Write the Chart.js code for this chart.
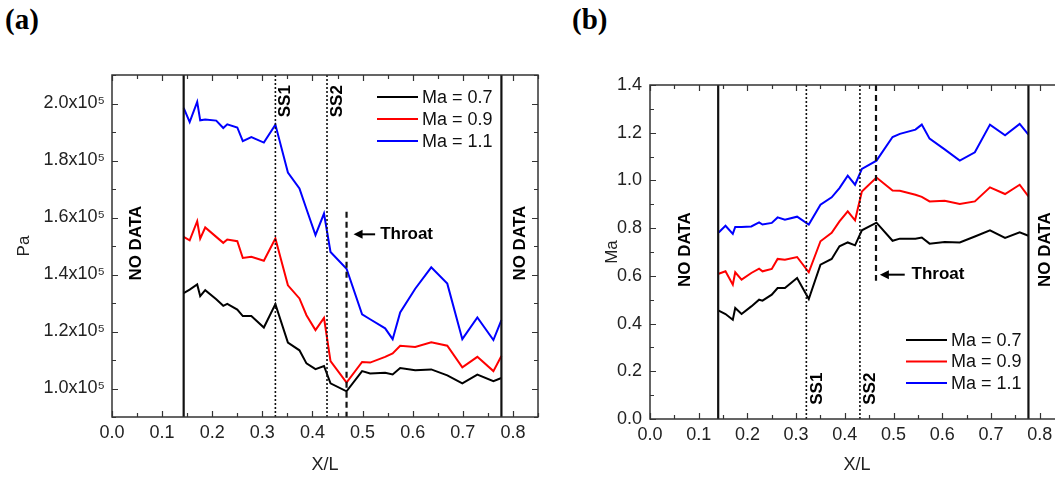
<!DOCTYPE html>
<html>
<head>
<meta charset="utf-8">
<script src="https://cdn.jsdelivr.net/npm/chart.js@4"></script>
<style>
  html, body { margin: 0; padding: 0; background: #fff; }
  body { width: 1055px; height: 479px; overflow: hidden; position: relative; }
  .panel { position: absolute; top: 0; }
  .tag { position: absolute; top: 3px; font: bold 29px 'Liberation Serif', 'Times New Roman', serif; color: #000; }
</style>
</head>
<body>
<div class="tag" style="left:5px">(a)</div>
<div class="tag" style="left:572px">(b)</div>
<div class="panel" style="left:0px"><canvas id="chartA" width="560" height="479"></canvas></div>
<div class="panel" style="left:560px"><canvas id="chartB" width="520" height="479"></canvas></div>
<script>
// ---- data ----
const seriesLabels = ['Ma = 0.7', 'Ma = 0.9', 'Ma = 1.1'];
const seriesColors = ['#000000', '#ff0000', '#0000ff'];

const xTicks = [0.0, 0.1, 0.2, 0.3, 0.4, 0.5, 0.6, 0.7, 0.8];
const paTicks = [100000, 120000, 140000, 160000, 180000, 200000];
const maTicks = [0.0, 0.2, 0.4, 0.6, 0.8, 1.0, 1.2, 1.4];

// (a) static pressure
const xA = [0.143, 0.155, 0.170, 0.176, 0.186, 0.208, 0.222, 0.230, 0.250, 0.261, 0.278,
            0.303, 0.326, 0.351, 0.374, 0.388, 0.406, 0.423, 0.436, 0.468, 0.499, 0.515,
            0.545, 0.560, 0.575, 0.605, 0.637, 0.669, 0.699, 0.729, 0.761, 0.777];
const pa07 = [133500, 134700, 136500, 132400, 134500, 131300, 129000, 129700, 127700, 125400, 125400,
              121400, 129600, 116100, 113400, 108800, 106800, 107900, 101800, 99000, 106100, 105300,
              105500, 104900, 107200, 106400, 106700, 104600, 101800, 104900, 102600, 103700];
const pa09 = [153200, 152000, 158700, 152600, 156500, 153200, 151100, 152300, 151700, 145800, 146200,
              144800, 152600, 136200, 131600, 125700, 120500, 124800, 109600, 102100, 109300, 109100,
              111100, 112300, 115000, 114600, 116200, 115000, 107400, 111100, 106100, 111400];
const pa11 = [198500, 193500, 200600, 194100, 194400, 194000, 191400, 192700, 191600, 186800, 188200,
              186300, 192600, 175800, 170200, 163000, 153800, 161400, 147900, 142000, 126000, 124300,
              121100, 117300, 126700, 135000, 142500, 136800, 117300, 124900, 117000, 124000];

// (b) Mach number
const xB = [0.141, 0.155, 0.170, 0.175, 0.188, 0.208, 0.224, 0.231, 0.250, 0.262, 0.277,
            0.302, 0.326, 0.350, 0.373, 0.389, 0.406, 0.421, 0.435, 0.465, 0.498, 0.513,
            0.545, 0.558, 0.574, 0.605, 0.636, 0.667, 0.698, 0.729, 0.759, 0.777];
const ma07 = [0.454, 0.440, 0.416, 0.465, 0.440, 0.472, 0.500, 0.496, 0.521, 0.549, 0.549,
              0.591, 0.503, 0.647, 0.671, 0.724, 0.740, 0.728, 0.791, 0.823, 0.747, 0.756,
              0.756, 0.761, 0.735, 0.742, 0.740, 0.765, 0.791, 0.759, 0.782, 0.768];
const ma09 = [0.609, 0.619, 0.563, 0.615, 0.584, 0.612, 0.630, 0.619, 0.629, 0.671, 0.668,
              0.679, 0.615, 0.745, 0.780, 0.828, 0.870, 0.833, 0.954, 1.012, 0.958, 0.957,
              0.940, 0.931, 0.912, 0.915, 0.901, 0.912, 0.971, 0.943, 0.982, 0.933];
const ma11 = [0.782, 0.810, 0.776, 0.805, 0.805, 0.807, 0.824, 0.815, 0.822, 0.845, 0.835,
              0.848, 0.815, 0.898, 0.929, 0.968, 1.020, 0.982, 1.048, 1.083, 1.182, 1.195,
              1.213, 1.234, 1.175, 1.130, 1.083, 1.118, 1.234, 1.189, 1.237, 1.192];

const FONT = "'Liberation Sans', Arial, sans-serif";
Chart.defaults.font.family = FONT;
Chart.defaults.color = '#222';

function pts(xs, ys) {
  return xs.map((x, i) => ({ x: x, y: ys[i] }));
}

function makeSets(xs, list) {
  return list.map((ys, i) => ({
    label: seriesLabels[i],
    data: pts(xs, ys),
    borderColor: seriesColors[i],
    backgroundColor: seriesColors[i],
    borderWidth: 2,
    pointRadius: 0,
    tension: 0
  }));
}

// frame with inward ticks, marker lines, labels and an inside legend
const decor = {
  id: 'decor',
  afterDatasetsDraw(chart, args, o) {
    const { ctx, chartArea: a, scales: { x, y } } = chart;
    ctx.save();
    ctx.beginPath();
    ctx.rect(a.left, a.top, a.right - a.left, a.bottom - a.top);
    ctx.clip();

    // solid "no data" limits
    ctx.strokeStyle = '#111';
    ctx.lineWidth = 2.2;
    o.limits.forEach(v => {
      const px = x.getPixelForValue(v);
      ctx.beginPath(); ctx.moveTo(px, a.top); ctx.lineTo(px, a.bottom); ctx.stroke();
    });
    // dotted shock lines
    ctx.lineWidth = 1.6;
    ctx.setLineDash([2, 2]);
    o.shocks.forEach(v => {
      const px = x.getPixelForValue(v);
      ctx.beginPath(); ctx.moveTo(px, a.top); ctx.lineTo(px, a.bottom); ctx.stroke();
    });
    // dashed throat line
    ctx.lineWidth = 2.2;
    ctx.setLineDash([6, 4]);
    const tx = x.getPixelForValue(o.throat.x);
    ctx.beginPath();
    ctx.moveTo(tx, y.getPixelForValue(o.throat.y0));
    ctx.lineTo(tx, y.getPixelForValue(o.throat.y1));
    ctx.stroke();
    ctx.setLineDash([]);
    ctx.restore();

    ctx.save();
    // throat arrow + text
    const ay = y.getPixelForValue(o.arrow.y);
    const ax0 = x.getPixelForValue(o.arrow.x0), ax1 = x.getPixelForValue(o.arrow.x1);
    ctx.strokeStyle = '#000'; ctx.fillStyle = '#000'; ctx.lineWidth = 2;
    ctx.beginPath(); ctx.moveTo(ax0 + 7, ay); ctx.lineTo(ax1, ay); ctx.stroke();
    ctx.beginPath(); ctx.moveTo(ax0, ay); ctx.lineTo(ax0 + 9, ay - 4.5); ctx.lineTo(ax0 + 9, ay + 4.5); ctx.closePath(); ctx.fill();
    ctx.font = 'bold 17px ' + FONT;
    ctx.textAlign = 'left'; ctx.textBaseline = 'middle';
    ctx.fillText('Throat', x.getPixelForValue(o.arrow.tx), ay);

    // rotated labels
    o.notes.forEach(n => {
      ctx.save();
      ctx.translate(x.getPixelForValue(n.x), y.getPixelForValue(n.y));
      ctx.rotate(-Math.PI / 2);
      ctx.textAlign = 'center'; ctx.textBaseline = 'middle';
      ctx.fillText(n.text, 0, 0);
      ctx.restore();
    });

    // frame
    ctx.strokeStyle = '#333'; ctx.lineWidth = 1.5;
    ctx.strokeRect(a.left, a.top, a.right - a.left, a.bottom - a.top);
    ctx.lineWidth = 1.2;
    const xm = o.xStep, ym = o.yStep;
    for (let v = x.min; v <= x.max + 1e-9; v += xm) {
      const px = Math.round(x.getPixelForValue(v)) + 0.5;
      const len = Math.abs(v / (2 * xm) - Math.round(v / (2 * xm))) < 1e-6 ? 6 : 4;
      ctx.beginPath();
      ctx.moveTo(px, a.bottom); ctx.lineTo(px, a.bottom - len);
      ctx.moveTo(px, a.top); ctx.lineTo(px, a.top + len);
      ctx.stroke();
    }
    for (let k = Math.ceil(y.min / ym - 1e-9); k * ym <= y.max + 1e-9; k++) {
      const py = Math.round(y.getPixelForValue(k * ym)) + 0.5;
      const len = k % 2 === 0 ? 6 : 4;
      ctx.beginPath();
      ctx.moveTo(a.left, py); ctx.lineTo(a.left + len, py);
      ctx.moveTo(a.right, py); ctx.lineTo(a.right - len, py);
      ctx.stroke();
    }

    // legend
    ctx.font = '18px ' + FONT;
    ctx.textAlign = 'left'; ctx.textBaseline = 'middle';
    chart.data.datasets.forEach((ds, i) => {
      const ly = o.legend.top + i * o.legend.gap;
      const lx = o.legend.left;
      ctx.strokeStyle = ds.borderColor; ctx.lineWidth = 2;
      ctx.beginPath(); ctx.moveTo(lx, ly); ctx.lineTo(lx + 41, ly); ctx.stroke();
      ctx.fillStyle = '#111';
      ctx.fillText(ds.label, lx + 45, ly + 1);
    });
    ctx.restore();
  }
};

function xScale(h, pad) {
  return {
    type: 'linear', min: 0, max: 0.85,
    grid: { display: false, drawTicks: false },
    border: { display: false },
    afterBuildTicks: axis => { axis.ticks = xTicks.map(v => ({ value: v })); },
    afterFit: axis => { axis.height = h; },
    ticks: { autoSkip: false, maxRotation: 0, padding: 5, color: '#222',
             font: { size: 18 }, callback: v => v.toFixed(1) },
    title: { display: true, text: 'X/L', color: '#222', font: { size: 18 },
             padding: { top: 0, bottom: pad } }
  };
}

// ---- (a) ----
new Chart(document.getElementById('chartA'), {
  type: 'line',
  data: { datasets: makeSets(xA, [pa07, pa09, pa11]) },
  options: {
    responsive: false,
    animation: false,
    layout: { padding: { top: 75, right: 22, left: 0, bottom: 0 } },
    scales: {
      x: xScale(62, 3),
      y: {
        type: 'linear', min: 90000, max: 210000,
        grid: { display: false, drawTicks: false },
        border: { display: false },
        afterBuildTicks: axis => { axis.ticks = paTicks.map(v => ({ value: v })); },
        afterFit: axis => { axis.width = 112; },
        ticks: { padding: 7, color: '#222', font: { size: 18 },
                 callback: v => (v / 100000).toFixed(1) + 'x10\u2075' },
        title: { display: true, text: 'Pa', color: '#222', font: { size: 17 },
                 padding: { top: 14, bottom: 0 } }
      }
    },
    plugins: {
      legend: { display: false },
      tooltip: { enabled: false },
      decor: {
        limits: [0.143, 0.777],
        shocks: [0.326, 0.429],
        throat: { x: 0.468, y0: 162000, y1: 90000 },
        arrow: { x0: 0.482, x1: 0.525, tx: 0.535, y: 154100 },
        notes: [
          { text: 'NO DATA', x: 0.049, y: 151000 },
          { text: 'NO DATA', x: 0.815, y: 151000 },
          { text: 'SS1', x: 0.346, y: 200800 },
          { text: 'SS2', x: 0.450, y: 200800 }
        ],
        xStep: 0.05, yStep: 10000,
        legend: { left: 377, top: 97, gap: 22 }
      }
    }
  },
  plugins: [decor]
});

// ---- (b) ----
new Chart(document.getElementById('chartB'), {
  type: 'line',
  data: { datasets: makeSets(xB, [ma07, ma09, ma11]) },
  options: {
    responsive: false,
    animation: false,
    layout: { padding: { top: 85, right: 16, left: 0, bottom: 0 } },
    scales: {
      x: xScale(60, 3),
      y: {
        type: 'linear', min: 0, max: 1.4,
        grid: { display: false, drawTicks: false },
        border: { display: false },
        afterBuildTicks: axis => { axis.ticks = maTicks.map(v => ({ value: v })); },
        afterFit: axis => { axis.width = 90; },
        ticks: { padding: 8, color: '#222', font: { size: 18 },
                 callback: v => v.toFixed(1) },
        title: { display: true, text: 'Ma', color: '#222', font: { size: 17 },
                 padding: { top: 42, bottom: 0 } }
      }
    },
    plugins: {
      legend: { display: false },
      tooltip: { enabled: false },
      decor: {
        limits: [0.140, 0.777],
        shocks: [0.321, 0.431],
        throat: { x: 0.464, y0: 1.4, y1: 0.58 },
        arrow: { x0: 0.472, x1: 0.523, tx: 0.537, y: 0.605 },
        notes: [
          { text: 'NO DATA', x: 0.072, y: 0.71 },
          { text: 'NO DATA', x: 0.812, y: 0.71 },
          { text: 'SS1', x: 0.343, y: 0.127 },
          { text: 'SS2', x: 0.453, y: 0.127 }
        ],
        xStep: 0.05, yStep: 0.1,
        legend: { left: 346, top: 340, gap: 21.5 }
      }
    }
  },
  plugins: [decor]
});
</script>
</body>
</html>
